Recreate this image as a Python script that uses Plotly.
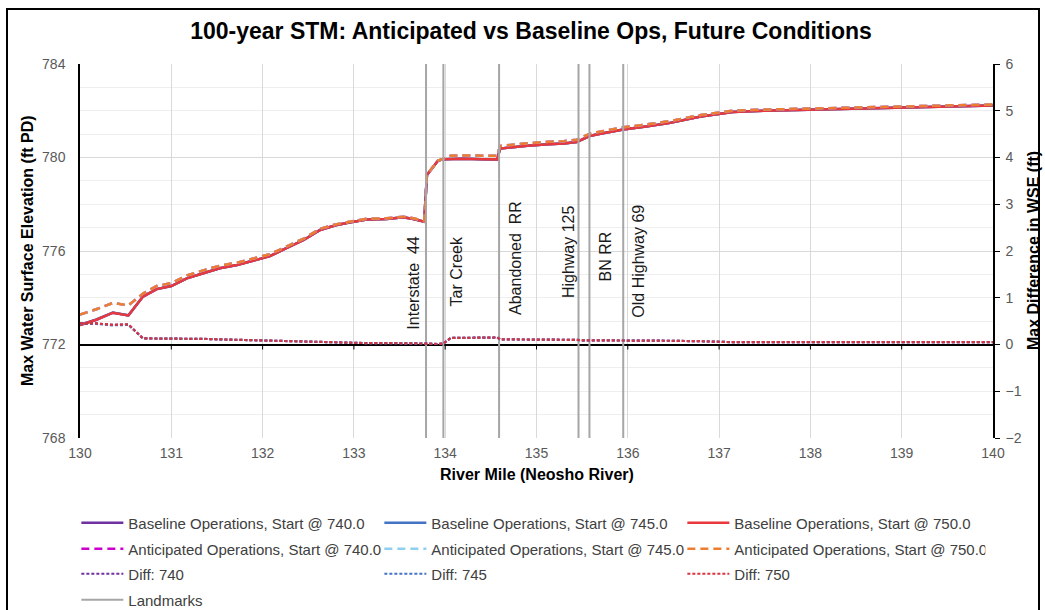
import plotly.graph_objects as go

# River stations (river mile, Neosho River)
river_mile = [130.0, 130.18, 130.36, 130.53, 130.69, 130.84, 131.0, 131.17, 131.35, 131.53,
              131.72, 131.9, 132.08, 132.26, 132.45, 132.63, 132.8, 132.95, 133.14, 133.36,
              133.54, 133.65, 133.77, 133.8, 133.92, 133.98, 134.06, 134.2, 134.4, 134.57,
              134.6, 134.75, 134.9, 135.13, 135.3, 135.44, 135.5, 135.58, 135.7, 135.95,
              136.2, 136.45, 136.8, 137.15, 137.5, 138.0, 138.6, 139.0, 139.5, 140.0]

# Max water surface elevation (ft PD), baseline operations
baseline_740 = [772.83, 773.06, 773.36, 773.24, 774.05, 774.37, 774.50, 774.83, 775.05, 775.26,
                775.40, 775.60, 775.78, 776.12, 776.47, 776.90, 777.10, 777.22, 777.35, 777.37,
                777.44, 777.37, 777.25, 779.25, 779.86, 779.93, 779.94, 779.95, 779.93, 779.92,
                780.38, 780.45, 780.50, 780.57, 780.60, 780.66, 780.78, 780.92, 781.02, 781.20,
                781.33, 781.47, 781.75, 781.95, 782.00, 782.05, 782.10, 782.14, 782.19, 782.22]
baseline_745 = [772.84, 773.07, 773.37, 773.25, 774.05, 774.37, 774.50, 774.83, 775.05, 775.26,
                775.40, 775.60, 775.78, 776.12, 776.47, 776.90, 777.10, 777.22, 777.35, 777.37,
                777.44, 777.37, 777.25, 779.25, 779.86, 779.93, 779.94, 779.95, 779.93, 779.92,
                780.38, 780.45, 780.50, 780.57, 780.60, 780.66, 780.78, 780.92, 781.02, 781.20,
                781.33, 781.47, 781.75, 781.95, 782.00, 782.05, 782.10, 782.14, 782.19, 782.22]
baseline_750 = [772.83, 773.06, 773.36, 773.24, 774.05, 774.37, 774.50, 774.83, 775.05, 775.26,
                775.40, 775.60, 775.78, 776.12, 776.47, 776.90, 777.10, 777.22, 777.35, 777.37,
                777.44, 777.37, 777.25, 779.25, 779.86, 779.93, 779.94, 779.95, 779.93, 779.92,
                780.38, 780.45, 780.50, 780.57, 780.60, 780.66, 780.78, 780.92, 781.02, 781.20,
                781.33, 781.47, 781.75, 781.95, 782.00, 782.05, 782.10, 782.14, 782.19, 782.22]

# Max water surface elevation (ft PD), anticipated operations
anticipated_740 = [773.28, 773.51, 773.78, 773.67, 774.18, 774.50, 774.63, 774.95, 775.17, 775.37,
                   775.50, 775.69, 775.86, 776.19, 776.53, 776.95, 777.14, 777.25, 777.38, 777.40,
                   777.47, 777.40, 777.28, 779.27, 779.87, 779.95, 780.08, 780.09, 780.08, 780.07,
                   780.49, 780.56, 780.61, 780.67, 780.70, 780.76, 780.87, 781.01, 781.11, 781.29,
                   781.41, 781.55, 781.82, 782.00, 782.05, 782.10, 782.15, 782.19, 782.24, 782.27]
anticipated_745 = [773.28, 773.51, 773.78, 773.67, 774.18, 774.50, 774.63, 774.95, 775.17, 775.37,
                   775.50, 775.69, 775.86, 776.19, 776.53, 776.95, 777.14, 777.25, 777.38, 777.40,
                   777.47, 777.40, 777.28, 779.27, 779.87, 779.95, 780.08, 780.09, 780.08, 780.07,
                   780.49, 780.56, 780.61, 780.67, 780.70, 780.76, 780.87, 781.01, 781.11, 781.29,
                   781.41, 781.55, 781.82, 782.00, 782.05, 782.10, 782.15, 782.19, 782.24, 782.27]
anticipated_750 = [773.28, 773.51, 773.78, 773.67, 774.18, 774.50, 774.63, 774.95, 775.17, 775.37,
                   775.50, 775.69, 775.86, 776.19, 776.53, 776.95, 777.14, 777.25, 777.38, 777.40,
                   777.47, 777.40, 777.28, 779.27, 779.87, 779.95, 780.08, 780.09, 780.08, 780.07,
                   780.49, 780.56, 780.61, 780.67, 780.70, 780.76, 780.87, 781.01, 781.11, 781.29,
                   781.41, 781.55, 781.82, 782.00, 782.05, 782.10, 782.15, 782.19, 782.24, 782.27]

# Max difference in WSE (ft), anticipated minus baseline
diff_740 = [0.45, 0.45, 0.42, 0.43, 0.13, 0.13, 0.13, 0.12, 0.12, 0.11,
            0.10, 0.09, 0.08, 0.07, 0.06, 0.05, 0.04, 0.03, 0.03, 0.03,
            0.03, 0.03, 0.03, 0.02, 0.01, 0.02, 0.14, 0.14, 0.15, 0.15,
            0.11, 0.11, 0.11, 0.10, 0.10, 0.10, 0.09, 0.09, 0.09, 0.09,
            0.08, 0.08, 0.07, 0.05, 0.05, 0.05, 0.05, 0.05, 0.05, 0.05]
diff_745 = [0.44, 0.44, 0.41, 0.42, 0.13, 0.13, 0.13, 0.12, 0.12, 0.11,
            0.10, 0.09, 0.08, 0.07, 0.06, 0.05, 0.04, 0.03, 0.03, 0.03,
            0.03, 0.03, 0.03, 0.02, 0.01, 0.02, 0.14, 0.14, 0.15, 0.15,
            0.11, 0.11, 0.11, 0.10, 0.10, 0.10, 0.09, 0.09, 0.09, 0.09,
            0.08, 0.08, 0.07, 0.05, 0.05, 0.05, 0.05, 0.05, 0.05, 0.05]
diff_750 = [0.45, 0.45, 0.42, 0.43, 0.13, 0.13, 0.13, 0.12, 0.12, 0.11,
            0.10, 0.09, 0.08, 0.07, 0.06, 0.05, 0.04, 0.03, 0.03, 0.03,
            0.03, 0.03, 0.03, 0.02, 0.01, 0.02, 0.14, 0.14, 0.15, 0.15,
            0.11, 0.11, 0.11, 0.10, 0.10, 0.10, 0.09, 0.09, 0.09, 0.09,
            0.08, 0.08, 0.07, 0.05, 0.05, 0.05, 0.05, 0.05, 0.05, 0.05]

# Landmarks along the river
landmark_names = ["Interstate  44", "Tar Creek", "Abandoned  RR", "Highway 125", "BN RR", "Old Highway 69"]
landmark_miles = [133.79, 133.98, 134.59, 135.46, 135.58, 135.95]

# Axis ranges and tick values
x_range = [130, 140]
wse_range = [768, 784]
diff_range = [-2, 6]
x_ticks = [130, 131, 132, 133, 134, 135, 136, 137, 138, 139, 140]
wse_ticks = [768, 772, 776, 780, 784]
diff_ticks = [-2, -1, 0, 1, 2, 3, 4, 5, 6]

FONT = "Liberation Sans, Arial, sans-serif"
TICK_COLOR = "#595959"

fig = go.Figure()

series = [
    ("Baseline Operations, Start @ 740.0", baseline_740, "#7030A0", "solid", 2.5, "y", "legend"),
    ("Baseline Operations, Start @ 745.0", baseline_745, "#4472C4", "solid", 2.5, "y", "legend"),
    ("Baseline Operations, Start @ 750.0", baseline_750, "#E8383D", "solid", 2.5, "y", "legend"),
    ("Anticipated Operations, Start @ 740.0", anticipated_740, "#CC00CC", "8px,5px", 2.5, "y", "legend2"),
    ("Anticipated Operations, Start @ 745.0", anticipated_745, "#8ED0EE", "8px,5px", 2.5, "y", "legend2"),
    ("Anticipated Operations, Start @ 750.0", anticipated_750, "#ED7D31", "8px,5px", 2.5, "y", "legend2"),
    ("Diff: 740", diff_740, "#7030A0", "3px,2px", 2.2, "y2", "legend3"),
    ("Diff: 745", diff_745, "#4472C4", "3px,2px", 2.2, "y2", "legend3"),
    ("Diff: 750", diff_750, "#D8343F", "3px,2px", 2.2, "y2", "legend3"),
]

for name, values, color, dash, width, axis, leg in series:
    fig.add_trace(go.Scatter(
        x=river_mile, y=values, name=name, mode="lines", yaxis=axis, legend=leg,
        line=dict(color=color, dash=dash, width=width),
        hoverinfo="skip",
    ))

# Landmark verticals spanning the full elevation range, one trace with gaps
lm_x, lm_y = [], []
for m in landmark_miles:
    lm_x += [m, m, None]
    lm_y += [wse_range[0], wse_range[1], None]
fig.add_trace(go.Scatter(
    x=lm_x, y=lm_y, name="Landmarks", mode="lines", legend="legend4",
    line=dict(color="#A6A6A6", width=2), hoverinfo="skip",
))

# Landmark labels: horizontal pixel offset from the line and bottom elevation of text
label_shift = [-12, 13, 17, -10, 16, 15]
label_bottom = [772.53, 773.56, 773.18, 773.9, 774.63, 773.05]
for name, m, dx, yb in zip(landmark_names, landmark_miles, label_shift, label_bottom):
    fig.add_annotation(
        x=m, y=yb, xref="x", yref="y", text=name.replace("  ", "&nbsp; "), textangle=-90,
        xanchor="center", yanchor="bottom", xshift=dx, showarrow=False,
        font=dict(family=FONT, size=16, color="#1a1a1a"),
    )

# Small tick marks on the horizontal axis line at 772 ft / 0 ft difference
for t in x_ticks[1:-1]:
    fig.add_shape(type="line", xref="x", yref="y", x0=t, x1=t,
                  ysizemode="pixel", yanchor=772, y0=0, y1=-5,
                  line=dict(color="#000000", width=1))

# Axis titles
fig.add_annotation(x=-53 / 913, y=0.5, xref="paper", yref="paper",
                   text="<b>Max Water Surface Elevation (ft PD)</b>", textangle=-90,
                   xanchor="center", yanchor="middle",
                   showarrow=False, font=dict(family=FONT, size=16, color="#000000"))
fig.add_annotation(x=(1033 - 80) / 913, y=0.5, xref="paper", yref="paper",
                   text="<b>Max Difference in WSE (ft)</b>", textangle=-90,
                   xanchor="center", yanchor="middle",
                   showarrow=False, font=dict(family=FONT, size=16, color="#000000"))
fig.add_annotation(x=0.5, y=(438 - 474) / 374, xref="paper", yref="paper",
                   text="<b>River Mile (Neosho River)</b>", xanchor="center", yanchor="middle",
                   showarrow=False, font=dict(family=FONT, size=16, color="#000000"))

# Chart frame
fig.add_shape(type="rect", xref="paper", yref="paper",
              x0=(7 - 80) / 913, x1=(1039 - 80) / 913,
              y0=(438 - 640) / 374, y1=(438 - 9) / 374,
              line=dict(color="#000000", width=2), fillcolor="rgba(0,0,0,0)", layer="below")

legend_common = dict(orientation="h", xanchor="left", yanchor="middle", x=-0.004,
                     entrywidth=246, entrywidthmode="pixels", itemwidth=42,
                     font=dict(family=FONT, size=15, color="#404040"),
                     bgcolor="rgba(0,0,0,0)", borderwidth=0, tracegroupgap=0)

fig.update_layout(
    width=1045, height=610,
    margin=dict(l=80, r=52, t=64, b=172, autoexpand=False),
    paper_bgcolor="#FFFFFF", plot_bgcolor="#FFFFFF",
    font=dict(family=FONT, size=14, color=TICK_COLOR),
    title=dict(text="<b>100-year STM: Anticipated vs Baseline Ops, Future Conditions</b>",
               x=(531) / 1045, xanchor="center", y=1 - 31 / 610, yanchor="middle",
               font=dict(family=FONT, size=23, color="#000000")),
    xaxis=dict(range=x_range, tickvals=x_ticks, showgrid=True, gridcolor="#D9D9D9", gridwidth=1,
               zeroline=False, showline=False, ticks="", tickfont=dict(size=14, color=TICK_COLOR),
               ticklabelstandoff=5),
    yaxis=dict(range=wse_range, tickvals=wse_ticks, showgrid=True, gridcolor="#D9D9D9", gridwidth=1,
               minor=dict(dtick=1, showgrid=True, gridcolor="#EEEEEE", gridwidth=1),
               zeroline=False, showline=True, linecolor="#000000", linewidth=1.5, ticks="",
               tickfont=dict(size=14, color=TICK_COLOR), ticklabelstandoff=10),
    yaxis2=dict(range=diff_range, tickvals=diff_ticks, overlaying="y", side="right",
                showgrid=False, zeroline=True, zerolinecolor="#000000", zerolinewidth=1.5,
                showline=True, linecolor="#000000", linewidth=1.5,
                ticks="outside", ticklen=5, tickcolor="#000000",
                tickfont=dict(size=14, color=TICK_COLOR), ticklabelstandoff=3),
    legend=dict(legend_common, y=(438 - 523) / 374),
    legend2=dict(legend_common, y=(438 - 549) / 374),
    legend3=dict(legend_common, y=(438 - 574) / 374),
    legend4=dict(legend_common, y=(438 - 600) / 374),
    showlegend=True,
)

fig.write_html("out.html")
